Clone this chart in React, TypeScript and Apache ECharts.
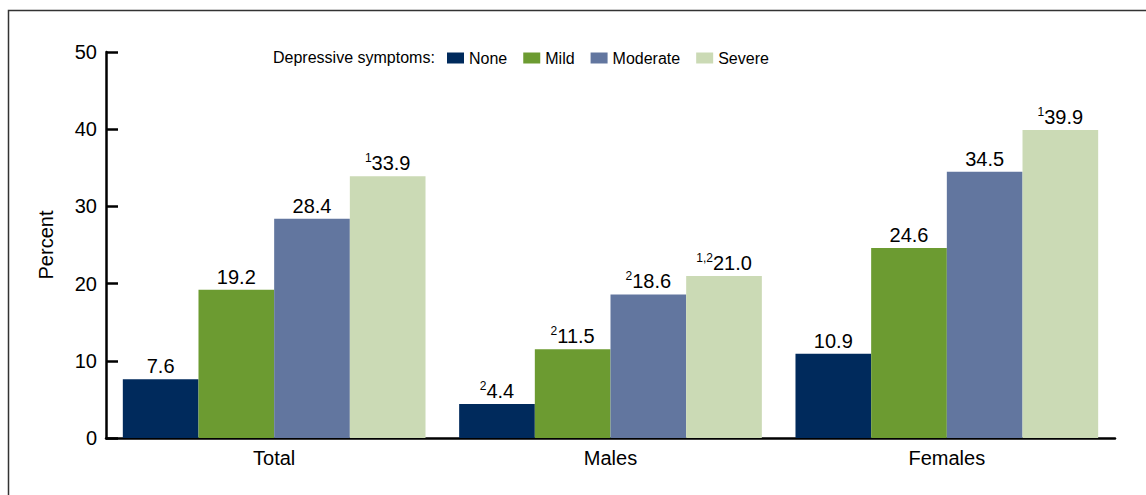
import React, { useEffect, useRef } from "react";
import * as echarts from "echarts";

const categories = ["Total", "Males", "Females"];
const seriesNames = ["None", "Mild", "Moderate", "Severe"];
const noneValues = [7.6, 4.4, 10.9];
const mildValues = [19.2, 11.5, 24.6];
const moderateValues = [28.4, 18.6, 34.5];
const severeValues = [33.9, 21.0, 39.9];
const noneNotes = ["", "2", ""];
const mildNotes = ["", "2", ""];
const moderateNotes = ["", "2", ""];
const severeNotes = ["1", "1,2", "1"];
const yTicks = [0, 10, 20, 30, 40, 50];
const colors = ["#002a5c", "#6c9b31", "#62769f", "#cbdab5"];

const FONT = "'Liberation Sans', Arial, Helvetica, sans-serif";

export default function App() {
  const ref = useRef<HTMLDivElement>(null);
  useEffect(() => {
    document.body.style.margin = "0";
    if (!ref.current) return;
    const chart = echarts.init(ref.current, undefined, { renderer: "svg" });
    const values = [noneValues, mildValues, moderateValues, severeValues];
    const notes = [noneNotes, mildNotes, moderateNotes, severeNotes];
    chart.setOption({
      animation: false,
      textStyle: { fontFamily: FONT },
      grid: { left: 106, right: 31, top: 52, bottom: 57, containLabel: false },
      graphic: [
        {
          type: "rect",
          shape: { x: 8.5, y: 10.5, width: 1300, height: 700 },
          style: { fill: "none", stroke: "#333", lineWidth: 1.5 },
          silent: true,
        },
        {
          type: "text",
          left: 273,
          top: 49,
          style: {
            text: "Depressive symptoms:",
            fontSize: 16,
            fontFamily: FONT,
            fill: "#000",
          },
        },
      ],
      legend: {
        data: seriesNames,
        left: 447,
        top: 50,
        padding: 0,
        itemWidth: 17,
        itemHeight: 11,
        itemGap: 16,
        icon: "rect",
        textStyle: { fontSize: 16, color: "#000", fontFamily: FONT },
      },
      xAxis: {
        type: "category",
        data: categories,
        axisLine: { lineStyle: { color: "#000", width: 2.5 } },
        axisTick: { show: false },
        axisLabel: { fontSize: 20, color: "#000", margin: 10, fontFamily: FONT },
      },
      yAxis: {
        type: "value",
        min: yTicks[0],
        max: yTicks[yTicks.length - 1],
        interval: 10,
        name: "Percent",
        nameLocation: "middle",
        nameGap: 50,
        nameTextStyle: { fontSize: 20, color: "#000", fontFamily: FONT },
        axisLine: { show: true, lineStyle: { color: "#000", width: 2.5 } },
        axisTick: { show: true, inside: true, length: 12, lineStyle: { color: "#000", width: 2.5 } },
        axisLabel: { fontSize: 20, color: "#000", margin: 9, fontFamily: FONT },
        splitLine: { show: false },
      },
      series: seriesNames.map((name, si) => ({
        name,
        type: "bar",
        data: values[si],
        barGap: "0%",
        barCategoryGap: "10%",
        itemStyle: { color: colors[si] },
        label: {
          show: true,
          position: "top",
          distance: 2,
          formatter: (p: any) => {
            const note = notes[si][p.dataIndex];
            const v = Number(p.value).toFixed(1);
            return note ? `{sup|${note}}{val|${v}}` : `{val|${v}}`;
          },
          rich: {
            val: { fontSize: 20, color: "#000", fontFamily: FONT, lineHeight: 22 },
            sup: { fontSize: 12, color: "#000", fontFamily: FONT, verticalAlign: "top", lineHeight: 22, padding: [0, 0, 6, 0] },
          },
        },
      })),
    });
    return () => chart.dispose();
  }, []);
  return <div ref={ref} style={{ width: 1146, height: 495 }} />;
}
